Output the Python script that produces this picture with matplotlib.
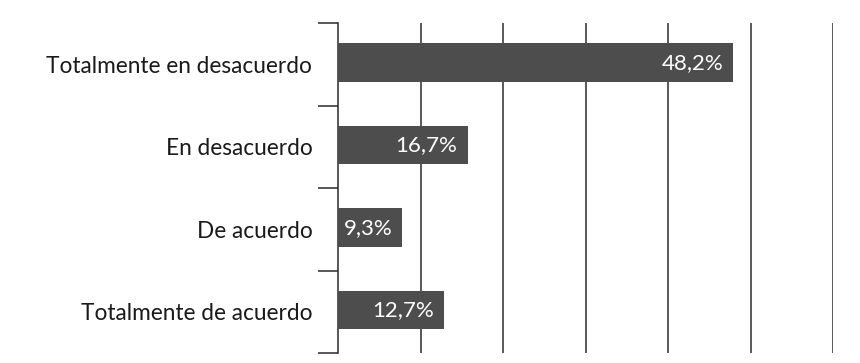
import matplotlib
matplotlib.use("Agg")
import matplotlib.pyplot as plt
import numpy as np

categorias = ["Totalmente en desacuerdo", "En desacuerdo", "De acuerdo", "Totalmente de acuerdo"]
largos = [47.9, 15.7, 7.8, 12.8]          # bar length as drawn
etiquetas = ["48,2%", "16,7%", "9,3%", "12,7%"]
grid_x = [10, 20, 30, 40, 50, 60]

plt.rcParams['font.family'] = ['Lato', 'DejaVu Sans']

fig = plt.figure(figsize=(8.6, 3.63), dpi=100)
ax = fig.add_axes([338/860, 1-353/363, (833-338)/860, (353-23)/363])

y = np.arange(len(categorias))
oscuro = "#4d4d4d"
ax.barh(y - 0.02, largos, height=0.47, color=oscuro, zorder=3)

for xv in grid_x:
    ax.axvline(xv, color="#2b2b2b", lw=1.1, zorder=1)

for yi, v, t in zip(y, largos, etiquetas):
    ax.annotate(t, (v, yi - 0.02), xytext=(-10, 0), textcoords="offset pixels",
                ha="right", va="center", color="white", fontsize=16,
                zorder=4)

ax.set_xlim(0, 60)
ax.set_ylim(len(categorias) - 0.5, -0.5)
ax.set_yticks(y)
ax.set_yticklabels(categorias, fontsize=16.3, color="#1a1a1a")
ax.tick_params(axis="y", which="major", length=0, pad=18.5)
ax.set_yticks(np.arange(len(categorias) + 1) - 0.5, minor=True)
ax.tick_params(axis="y", which="minor", length=14.4, width=1.1, color="#2b2b2b")
ax.set_xticks([])

for s in ["top", "right", "bottom"]:
    ax.spines[s].set_visible(False)
ax.spines["left"].set_color("#2b2b2b")
ax.spines["left"].set_linewidth(1.1)

fig.savefig("out.png", dpi=100)
